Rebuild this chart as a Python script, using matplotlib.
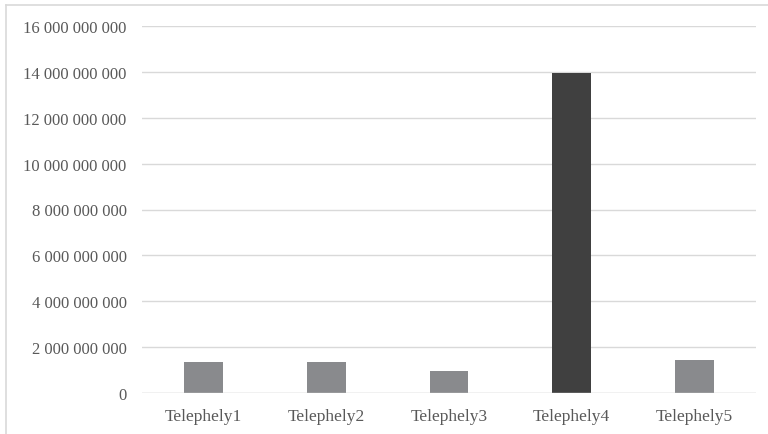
import matplotlib.pyplot as plt
from matplotlib.lines import Line2D
from matplotlib.ticker import FuncFormatter

telephelyek = ["Telephely1", "Telephely2", "Telephely3", "Telephely4", "Telephely5"]
ertekek = [1.36e9, 1.36e9, 0.95e9, 13.95e9, 1.45e9]
szinek = ["#898a8d", "#898a8d", "#898a8d", "#404040", "#898a8d"]
y_tickek = [0, 2e9, 4e9, 6e9, 8e9, 10e9, 12e9, 14e9, 16e9]

plt.rcParams['font.family'] = ['Liberation Serif', 'DejaVu Serif']

W, H = 768, 435
fig = plt.figure(figsize=(W / 100, H / 100), dpi=100)
ax = fig.add_axes([142 / W, 1 - 394 / H, (756 - 142) / W, (394 - 27) / H])

x = range(len(telephelyek))
ax.bar(x, ertekek, width=0.315, color=szinek, zorder=2)

ax.set_xlim(-0.5, len(telephelyek) - 0.5)
ax.set_ylim(0, 16e9)
ax.set_yticks(y_tickek)
ax.yaxis.set_major_formatter(FuncFormatter(lambda v, p: f"{int(v):,}".replace(",", " ")))
ax.set_xticks(list(x))
ax.set_xticklabels(telephelyek)

ax.grid(axis='y', color='#d9d9d9', linewidth=1.0, zorder=1)
ax.axhline(0, color='#d9d9d9', linewidth=1.0, zorder=3)
for s in ax.spines.values():
    s.set_visible(False)
ax.tick_params(length=0, colors='#595959')
ax.tick_params(axis='y', pad=11, labelsize=12)
ax.tick_params(axis='x', pad=11, labelsize=12.5)

# keret a diagram körül (bal és felső oldal)
fig.add_artist(Line2D([6 / W, 6 / W], [0, 1 - 6 / H], color='#d9d9d9', lw=1.2, transform=fig.transFigure))
fig.add_artist(Line2D([6 / W, 1], [1 - 6 / H, 1 - 6 / H], color='#d9d9d9', lw=1.2, transform=fig.transFigure))

fig.savefig("out.png", dpi=100)
